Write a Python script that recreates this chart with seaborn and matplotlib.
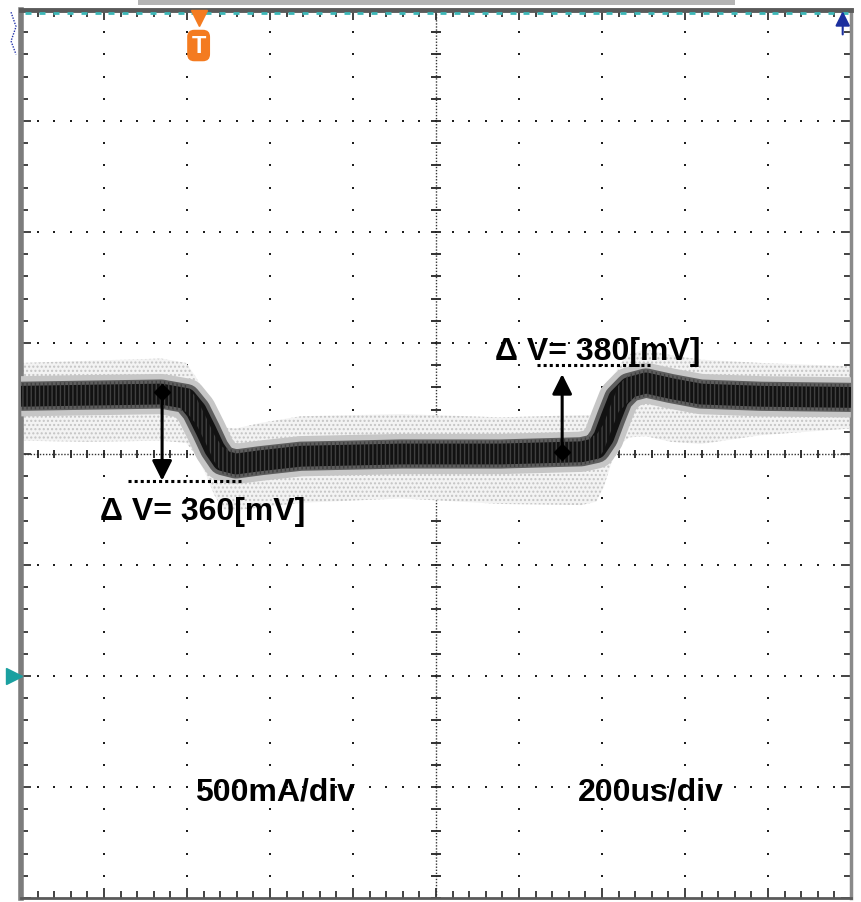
import numpy as np
import pandas as pd
import matplotlib
matplotlib.use("Agg")
import matplotlib.pyplot as plt
from matplotlib.patches import Rectangle
import seaborn as sns

# ---------------- data (in divisions) ----------------
trace_t = [0.00, 0.80, 1.69, 1.99, 2.11, 2.23, 2.33, 2.43, 2.59, 2.89, 3.37, 4.58,
           5.78, 6.75, 6.93, 7.02, 7.11, 7.20, 7.33, 7.53, 7.83, 8.19, 8.92, 10.00]
trace_v = [0.52, 0.53, 0.54, 0.50, 0.39, 0.21, 0.05, -0.06, -0.09, -0.06, -0.02, 0.00,
           0.00, 0.02, 0.05, 0.15, 0.33, 0.50, 0.60, 0.64, 0.59, 0.54, 0.52, 0.51]
noise_up = [0.30, 0.31, 0.32, 0.32, 0.30, 0.30, 0.30, 0.30, 0.32, 0.34, 0.36, 0.36,
            0.33, 0.33, 0.30, 0.30, 0.30, 0.30, 0.30, 0.30, 0.30, 0.31, 0.30, 0.28]
noise_dn = [0.40, 0.42, 0.42, 0.40, 0.40, 0.40, 0.42, 0.44, 0.42, 0.42, 0.42, 0.40,
            0.45, 0.48, 0.48, 0.45, 0.42, 0.42, 0.45, 0.48, 0.48, 0.45, 0.35, 0.28]

delta_labels = ["\u0394 V= 360[mV]", "\u0394 V= 380[mV]"]
delta_x = [1.70, 6.52]          # arrow position
delta_from = [0.56, 0.02]       # arrow start (dot)
delta_to = [-0.24, 0.72]        # arrow tip
ref_y = [-0.245, 0.80]          # dotted reference line level
ref_x0 = [1.29, 6.22]
ref_x1 = [2.65, 7.58]
label_x = [0.95, 5.71]
label_y = [-0.585, 0.856]

scale_labels = ["500mA/div", "200us/div"]
scale_x = [2.10, 6.71]
scale_y = [-3.11, -3.11]

x_divs = 10
y_divs = 8
trigger_t = 2.14

# ---------------- style ----------------
sns.set_style("white")
plt.rcParams["font.family"] = ["Liberation Sans", "DejaVu Sans"]
plt.rcParams["hatch.linewidth"] = 1.0

W, H = 861, 903
fig = plt.figure(figsize=(W / 100, H / 100), dpi=100)
fig.patch.set_facecolor("white")
ax = fig.add_axes([21 / W, 4 / H, 830 / W, 888 / H])
ax.set_xlim(0, x_divs)
ax.set_ylim(-y_divs / 2, y_divs / 2)
ax.set_facecolor("white")

# ---------------- graticule ----------------
minor_x = np.round(np.arange(0, x_divs + 0.001, 0.2), 3)
minor_y = np.round(np.arange(-y_divs / 2, y_divs / 2 + 0.001, 0.2), 3)
for k in range(-3, 4):
    if k == 0:
        continue
    ax.scatter(minor_x, np.full_like(minor_x, k), marker="s", s=2.6,
               color="#1e1e1e", linewidths=0, zorder=1)
for k in range(1, x_divs):
    if k == 5:
        continue
    ax.scatter(np.full_like(minor_y, k), minor_y, marker="s", s=2.6,
               color="#1e1e1e", linewidths=0, zorder=1)
# centre axes
ax.axhline(0, color="#333333", lw=1.0, ls=(0, (1, 1.2)), zorder=1)
ax.axvline(5, color="#333333", lw=1.0, ls=(0, (1, 1.2)), zorder=1)
ax.plot(minor_x, np.zeros_like(minor_x), ls="none", marker="|", ms=6,
        mew=1.3, color="#222222", zorder=1)
ax.plot(np.full_like(minor_y, 5), minor_y, ls="none", marker="_", ms=7,
        mew=1.3, color="#222222", zorder=1)

# ---------------- trace ----------------
t = np.array(trace_t)
v = np.array(trace_v)
ax.fill_between(t, v + np.array(noise_up), v - np.array(noise_dn),
                facecolor="#f3f3f3", edgecolor="#c4c4c4", hatch="....",
                linewidth=0, zorder=2)
df = pd.DataFrame({"t": trace_t, "v": trace_v})
sns.lineplot(data=df, x="t", y="v", ax=ax, color="#c6c6c6", lw=29,
             solid_joinstyle="round", solid_capstyle="butt", zorder=3)
sns.lineplot(data=df, x="t", y="v", ax=ax, color="#5e5e5e", lw=21,
             solid_joinstyle="round", solid_capstyle="butt", zorder=4)
sns.lineplot(data=df, x="t", y="v", ax=ax, color="#121212", lw=15,
             solid_joinstyle="round", solid_capstyle="butt", zorder=5)
# vertical streak texture of the persistence trace
ax.fill_between(t, v + 0.12, v - 0.12, facecolor="none", edgecolor="#404040",
                hatch="||||", linewidth=0, zorder=5.5)

# ---------------- annotations ----------------
for i in range(2):
    ax.plot([ref_x0[i], ref_x1[i]], [ref_y[i], ref_y[i]], color="black",
            lw=2.2, ls=(0, (1, 1)), zorder=6)
    ax.annotate("", xy=(delta_x[i], delta_to[i]), xytext=(delta_x[i], delta_from[i]),
                arrowprops=dict(arrowstyle="-|>", color="black", lw=2.2,
                                mutation_scale=30, shrinkA=0, shrinkB=0),
                zorder=7)
    ax.plot([delta_x[i]], [delta_from[i]], marker="D", ms=8.5, color="black", zorder=7)
    ax.text(label_x[i], label_y[i], delta_labels[i], fontsize=23, color="black",
            fontweight="bold", ha="left", va="baseline", zorder=8)

for i in range(2):
    ax.text(scale_x[i], scale_y[i], scale_labels[i], fontsize=23, color="black",
            fontweight="bold", ha="left", va="baseline", zorder=8)

# ---------------- frame / scope decorations ----------------
ax.set_xticks(range(0, x_divs + 1))
ax.set_yticks(range(-4, 5))
ax.set_xticks(minor_x, minor=True)
ax.set_yticks(minor_y, minor=True)
ax.tick_params(which="both", direction="in", bottom=True, top=True, left=True,
               right=True, labelbottom=False, labelleft=False, color="#222222",
               width=1.2)
ax.tick_params(which="major", length=7)
ax.tick_params(which="minor", length=5)
ax.set_xlabel("")
ax.set_ylabel("")
for side, lw, col in [("left", 4.0, "#7c7c7c"), ("right", 2.5, "#8a8a8a"),
                      ("top", 3.5, "#5a5a5a"), ("bottom", 2.0, "#5a5a5a")]:
    ax.spines[side].set_visible(True)
    ax.spines[side].set_color(col)
    ax.spines[side].set_linewidth(lw)

# top status bar
fig.add_artist(Rectangle((138 / W, 1 - 6 / H), (735 - 138) / W, 6 / H,
                         transform=fig.transFigure, facecolor="#b4b4b4",
                         edgecolor="none"))
# cyan marks along top edge
cyan_x = np.arange(0.09, x_divs, 1 / 6)
ax.plot(cyan_x, np.full_like(cyan_x, 3.97), ls="none", marker="_", ms=5,
        mew=2.0, color="#3cb8b8", clip_on=False, zorder=9)
# trigger marker
ax.plot([trigger_t], [3.93], marker="v", ms=11, color="#f47b20",
        clip_on=False, zorder=10)
ax.text(trigger_t, 3.68, "T", color="white", fontsize=17, fontweight="bold",
        ha="center", va="center", zorder=10,
        bbox=dict(boxstyle="round,pad=0.18,rounding_size=0.3",
                  facecolor="#f47b20", edgecolor="none"))
# channel ground marker (right) and left markers
ax.annotate("", xy=(9.90, 3.99), xytext=(9.90, 3.78),
            arrowprops=dict(arrowstyle="-|>", color="#1b2f9e", lw=1.5,
                            mutation_scale=22, shrinkA=0, shrinkB=0),
            annotation_clip=False, zorder=10)
ax.plot([-0.09], [-2.0], marker=">", ms=12, color="#1aa0a0", clip_on=False,
        zorder=10)
ax.plot([-0.12, -0.06, -0.12, -0.06], [3.98, 3.85, 3.72, 3.6], color="#2233aa",
        lw=1.0, ls=(0, (1, 1)), clip_on=False, zorder=10)

fig.savefig("out.png", dpi=100, facecolor="white")
